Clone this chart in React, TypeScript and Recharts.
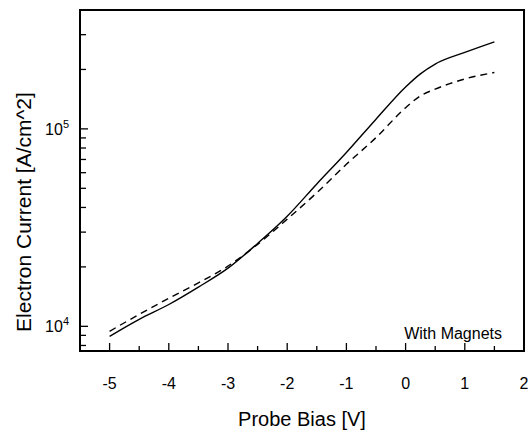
import { LineChart, Line, XAxis, YAxis } from "recharts";

// probe bias [V]
const bias = [-5, -4.5, -4, -3.5, -3, -2.5, -2, -1.5, -1, -0.5, 0, 0.25, 0.5, 1, 1.5];
// electron current density [A/cm^2]
const solidCurrent = [8900, 10850, 12900, 15800, 19700, 26300, 36100, 52600, 75900, 112000, 163000, 190000, 213000, 244000, 276000];
const dashedCurrent = [9440, 11500, 13870, 16600, 20200, 26000, 34900, 47500, 66200, 90300, 128000, 147000, 159000, 179000, 193000];

const xTicks = [-5, -4.5, -4, -3.5, -3, -2.5, -2, -1.5, -1, -0.5, 0, 0.5, 1, 1.5, 2];
const yTicks = [8000, 9000, 10000, 20000, 30000, 40000, 50000, 60000, 70000, 80000, 90000, 100000, 200000, 300000];
const yMajor = [10000, 100000];
const xDomain = [-5.5, 2];
const yDomain = [7500, 400000];

const data = bias.map((b, i) => ({ bias: b, solid: solidCurrent[i], dashed: dashedCurrent[i] }));

const FONT = '"Liberation Sans", Arial, sans-serif';
const W = 530;
const H = 436;
const M = { top: 10, right: 6, left: 80, bottom: 85 };

const isMajorX = (v: number) => Number.isInteger(v);

const BottomTick = (props: any) => {
  const { x, y, payload } = props;
  const v = payload.value;
  const major = isMajorX(v);
  return (
    <g>
      <line x1={x} x2={x} y1={y} y2={y - (major ? 8 : 5)} stroke="#000" strokeWidth={1.3} />
      {major && (
        <text x={x} y={y + 38} textAnchor="middle" fontSize={16} fontFamily={FONT} fill="#000">
          {v}
        </text>
      )}
    </g>
  );
};

const TopTick = (props: any) => {
  const { x, y, payload } = props;
  const major = isMajorX(payload.value);
  return <line x1={x} x2={x} y1={y} y2={y + (major ? 8 : 5)} stroke="#000" strokeWidth={1.3} />;
};

const LeftTick = (props: any) => {
  const { x, y, payload } = props;
  const v = payload.value;
  const major = yMajor.includes(v);
  return (
    <g>
      <line x1={x} x2={x + (major ? 8 : 6)} y1={y} y2={y} stroke="#000" strokeWidth={1.3} />
      {major && (
        <text x={x - 11} y={y + 6} textAnchor="end" fontSize={16} fontFamily={FONT} fill="#000">
          <tspan>10</tspan>
          <tspan dy={-7} fontSize={11}>{Math.round(Math.log10(v))}</tspan>
        </text>
      )}
    </g>
  );
};

const RightTick = (props: any) => {
  const { x, y, payload } = props;
  const major = yMajor.includes(payload.value);
  return <line x1={x} x2={x - (major ? 8 : 6)} y1={y} y2={y} stroke="#000" strokeWidth={1.3} />;
};

export default function App() {
  return (
    <div style={{ position: "absolute", left: 0, top: 0, width: W, height: H, background: "#fff" }}>
      <LineChart width={W} height={H} data={data} margin={{ top: M.top, right: M.right, bottom: 0, left: 0 }}>
        <XAxis
          xAxisId="bottom"
          dataKey="bias"
          type="number"
          domain={xDomain}
          allowDataOverflow
          ticks={xTicks}
          height={M.bottom}
          tickSize={0}
          tickMargin={0}
          axisLine={false}
          tick={BottomTick}
          interval={0}
        />
        <XAxis
          xAxisId="top"
          orientation="top"
          dataKey="bias"
          type="number"
          domain={xDomain}
          allowDataOverflow
          ticks={xTicks}
          height={0}
          tickSize={0}
          tickMargin={0}
          axisLine={false}
          tick={TopTick}
          interval={0}
        />
        <YAxis
          yAxisId="left"
          scale="log"
          type="number"
          domain={yDomain}
          allowDataOverflow
          ticks={yTicks}
          width={M.left}
          tickSize={0}
          tickMargin={0}
          axisLine={false}
          tick={LeftTick}
          interval={0}
        />
        <YAxis
          yAxisId="right"
          orientation="right"
          scale="log"
          type="number"
          domain={yDomain}
          allowDataOverflow
          ticks={yTicks}
          width={0}
          tickSize={0}
          tickMargin={0}
          axisLine={false}
          tick={RightTick}
          interval={0}
        />
        <Line
          xAxisId="bottom"
          yAxisId="left"
          type="monotone"
          dataKey="solid"
          stroke="#000"
          strokeWidth={1.4}
          dot={false}
          isAnimationActive={false}
        />
        <Line
          xAxisId="bottom"
          yAxisId="left"
          type="monotone"
          dataKey="dashed"
          stroke="#000"
          strokeWidth={1.4}
          strokeDasharray="7 5"
          dot={false}
          isAnimationActive={false}
        />
        <text x={302} y={426} textAnchor="middle" fontSize={20} fontFamily={FONT} fill="#000">
          Probe Bias [V]
        </text>
        <text
          transform="translate(23,212) rotate(-90)"
          textAnchor="middle"
          dominantBaseline="central"
          fontSize={21}
          fontFamily={FONT}
          fill="#000"
        >
          Electron Current [A/cm^2]
        </text>
        <text x={502} y={339} textAnchor="end" fontSize={16} fontFamily={FONT} fill="#000">
          With Magnets
        </text>
      </LineChart>
      {/* plot frame */}
      <div
        style={{
          position: "absolute",
          left: M.left - 1,
          top: M.top - 1,
          width: W - M.left - M.right + 2,
          height: H - M.top - M.bottom + 2,
          border: "2px solid #000",
          boxSizing: "border-box",
          pointerEvents: "none",
        }}
      />
    </div>
  );
}
